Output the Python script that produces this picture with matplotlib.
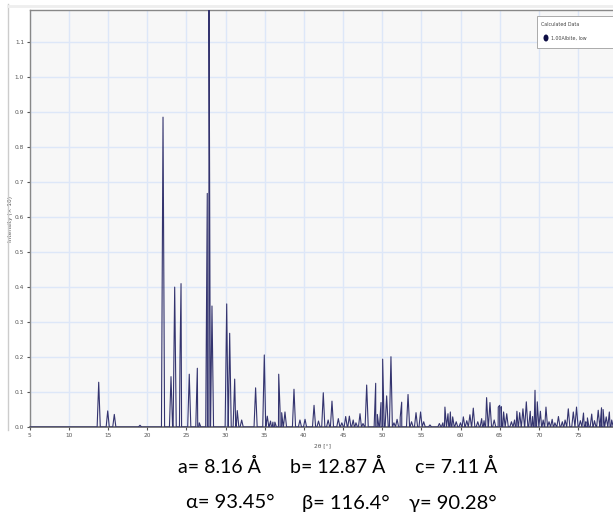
import matplotlib
matplotlib.use("Agg")
import matplotlib.pyplot as plt
from matplotlib.patches import Rectangle, Ellipse
from matplotlib.lines import Line2D
import numpy as np

# ---- data: peak positions (2theta, deg) and intensities ----
peak_pos = [13.81, 14.96, 15.80, 19.08,
            22.02, 23.04, 23.51, 24.19, 24.32, 25.37, 26.40, 26.65,
            27.67, 27.89, 28.27, 30.15, 30.53, 31.17, 31.50, 32.06,
            33.84, 34.95, 35.33, 35.75, 36.05, 36.30, 36.79, 36.96, 37.17, 37.59,
            38.74, 39.50, 40.15, 41.30, 41.87, 42.48, 43.10, 43.59, 44.40,
            44.85, 45.34, 45.81, 46.30, 46.65, 47.17, 47.55, 48.02, 49.17, 49.38, 49.85,
            50.06, 50.57, 51.12, 51.50, 51.90, 52.30, 52.49, 53.30, 53.75, 54.32, 54.90,
            55.30, 56.10, 57.30, 57.75,
            58.01, 58.40, 58.70, 59.00, 59.45, 60.00, 60.36, 60.80, 61.20, 61.63,
            62.20, 62.70, 63.00, 63.33, 63.76, 64.30, 64.82, 65.00, 65.20, 65.50,
            65.90, 66.50, 66.90, 67.20, 67.55, 67.97, 68.40, 68.90, 69.20, 69.51,
            69.80, 70.20, 70.55, 70.91, 71.30, 71.70, 72.05, 72.50, 73.00, 73.35,
            73.76, 74.40, 74.81, 75.30, 75.70, 76.00, 76.20, 76.75, 77.10, 77.58,
            78.00, 78.20, 78.60, 79.00, 79.30]
peak_int = [0.128, 0.046, 0.036, 0.005,
            0.886, 0.144, 0.400, 0.199, 0.410, 0.151, 0.168, 0.012,
            0.668, 1.250, 0.346, 0.352, 0.268, 0.137, 0.047, 0.020,
            0.112, 0.206, 0.031, 0.017, 0.014, 0.014, 0.151, 0.050, 0.041, 0.043,
            0.108, 0.020, 0.022, 0.062, 0.017, 0.098, 0.020, 0.074, 0.024,
            0.012, 0.030, 0.031, 0.020, 0.012, 0.038, 0.010, 0.120, 0.125, 0.036, 0.070,
            0.194, 0.089, 0.201, 0.012, 0.022, 0.028, 0.071, 0.093, 0.015, 0.041, 0.043,
            0.015, 0.006, 0.010, 0.012,
            0.057, 0.038, 0.043, 0.029, 0.015, 0.012, 0.029, 0.018, 0.035, 0.054,
            0.015, 0.024, 0.018, 0.084, 0.070, 0.020, 0.057, 0.062, 0.058, 0.043,
            0.038, 0.015, 0.020, 0.045, 0.041, 0.052, 0.072, 0.045, 0.030, 0.105,
            0.072, 0.045, 0.020, 0.057, 0.015, 0.022, 0.012, 0.030, 0.015, 0.020,
            0.052, 0.043, 0.057, 0.018, 0.040, 0.015, 0.026, 0.037, 0.018, 0.048,
            0.055, 0.050, 0.029, 0.043, 0.020]

x_ticks = [5, 10, 15, 20, 25, 30, 35, 40, 45, 50, 55, 60, 65, 70, 75]
y_ticks = [0.0, 0.1, 0.2, 0.3, 0.4, 0.5, 0.6, 0.7, 0.8, 0.9, 1.0, 1.1]
cell_top = ["a= 8.16 Å", "b= 12.87 Å", "c= 7.11 Å"]
cell_bot = ["α= 93.45°", "β= 116.4°", "γ= 90.28°"]

# ---- build the line profile as vertices around each peak ----
hw = 0.2
verts = [(5.0, 0.0)]
for p, h in zip(peak_pos, peak_int):
    verts += [(p - hw, 0.0), (p, h), (p + hw, 0.0)]
verts.append((80.0, 0.0))
verts.sort(key=lambda v: v[0])
vx = [v[0] for v in verts]
vy = [v[1] for v in verts]

W, H = 613, 523
fig = plt.figure(figsize=(W / 100, H / 100), dpi=100)
fig.patch.set_facecolor("white")

left_px, right_px, top_px, bot_px = 29.7, 613, 10, 427
ax = fig.add_axes([left_px / W, 1 - bot_px / H, (right_px - left_px) / W, (bot_px - top_px) / H])
ax.set_facecolor("#f7f7f7")

ax.plot(vx, vy, color="#34346f", lw=0.8, zorder=3)

ax.set_xlim(5, 5 + (right_px - left_px) / 7.833)
ax.set_ylim(0, (bot_px - top_px) / 349.7)
ax.set_xticks(x_ticks)
ax.set_yticks(y_ticks)
ax.set_xticklabels([str(t) for t in x_ticks])
ax.set_yticklabels([f"{t:.1f}" for t in y_ticks])
ax.tick_params(axis="both", labelsize=4.2, colors="#555555", length=2.5, width=0.8, pad=1.5)
ax.grid(True, color="#dde7f8", lw=1.0, zorder=0)
ax.set_axisbelow(True)

for s in ["top", "left"]:
    ax.spines[s].set_color("#888888")
    ax.spines[s].set_linewidth(1.0)
ax.spines["bottom"].set_color("#666666")
ax.spines["bottom"].set_linewidth(1.2)
ax.spines["right"].set_visible(False)

ax.set_ylabel("Intensity (× 10)", fontsize=4.2, color="#555555")
ax.yaxis.set_label_coords((13.5 - left_px) / (right_px - left_px), 0.5)
fig.text(323 / W, 1 - 446 / H, "2θ [°]", fontsize=4.2, color="#555555", ha="center", va="center")

# outer frame line
fig.add_artist(Line2D([8 / W, 8 / W], [1 - 430 / H, 1 - 4 / H], color="#cccccc", lw=1.0))
fig.add_artist(Line2D([8 / W, 1], [1 - 6 / H, 1 - 6 / H], color="#eeeeee", lw=2.0))

# legend box
fig.add_artist(Rectangle((537 / W, 1 - 48 / H), 80 / W, 32 / H, transform=fig.transFigure,
                         facecolor="white", edgecolor="#aaaaaa", lw=0.7, zorder=5))
fig.text(541 / W, 1 - 25 / H, "Calculated Data", fontsize=3.4, color="#444444", va="center", zorder=6)
fig.add_artist(Ellipse((546 / W, 1 - 38 / H), 5 / W, 7 / H, transform=fig.transFigure,
                       facecolor="#0e0e45", edgecolor="none", zorder=6))
fig.text(551 / W, 1 - 38 / H, "1.00Albite, low", fontsize=3.4, color="#444444", va="center", zorder=6)

# cell parameters
top_x = [219, 338, 456]
bot_x = [230, 346, 453]
for s, xc in zip(cell_top, top_x):
    fig.text(xc / W, 1 - 467 / H, s, fontsize=14, family="Lato", ha="center", va="center", color="black")
for s, xc in zip(cell_bot, bot_x):
    fig.text(xc / W, 1 - 503 / H, s, fontsize=14.5, family="Lato", ha="center", va="center", color="black")

fig.savefig("out.png", dpi=100, facecolor="white")
